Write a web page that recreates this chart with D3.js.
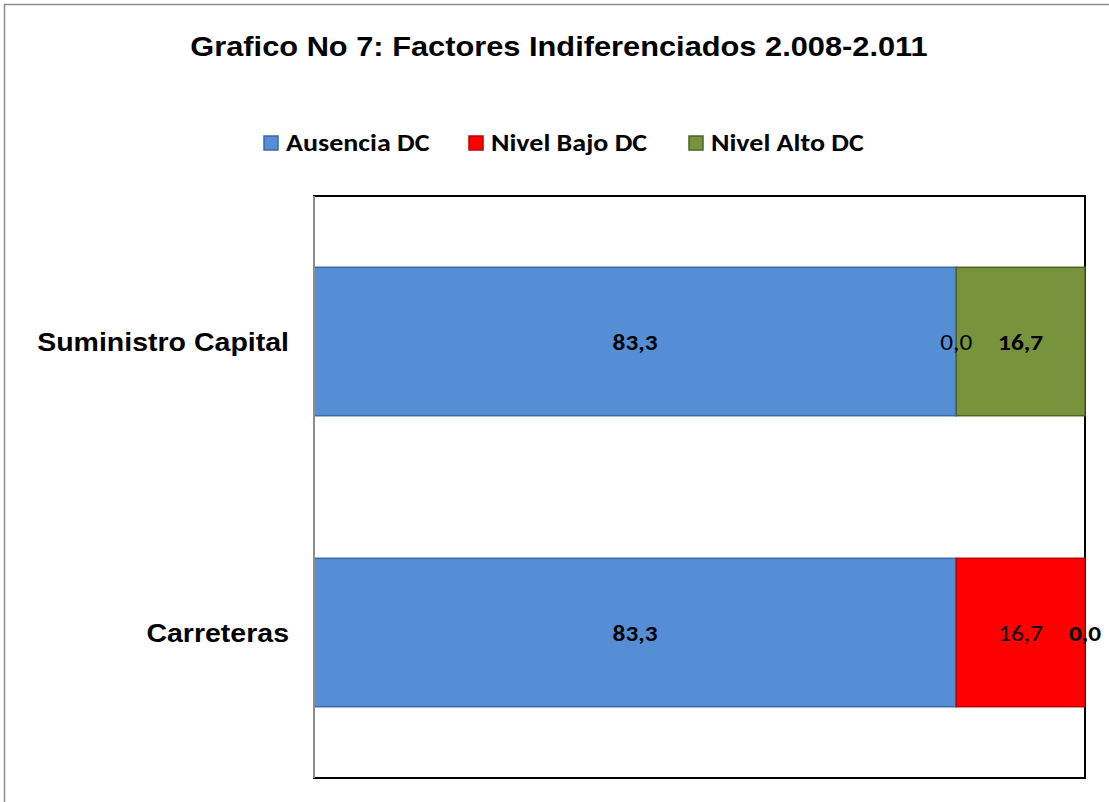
<!DOCTYPE html>
<html>
<head>
<meta charset="utf-8">
<script src="https://cdn.jsdelivr.net/npm/d3@7"></script>
<style>
  body { margin: 0; background: #fff; }
  svg text { font-family: Carlito, Lato, "Open Sans", sans-serif; }
</style>
</head>
<body>
<div id="chart"></div>
<script>
var categories = ["Suministro Capital", "Carreteras"];
var seriesNames = ["Ausencia DC", "Nivel Bajo DC", "Nivel Alto DC"];
var ausencia = [83.3, 83.3];
var bajo = [0.0, 16.7];
var alto = [16.7, 0.0];

var colors = ["#558ed5", "#ff0000", "#77933c"];
var borders = ["#3b6aa6", "#c00000", "#4f6228"];
var boldLabel = [true, false, true];

var width = 1109, height = 802;
var plot = { left: 314, top: 196, right: 1085, bottom: 778 };

var svg = d3.select("#chart").append("svg")
    .attr("width", width)
    .attr("height", height);

// the reference text looks a bit wider than the installed fonts
function stretch(sel, f) {
    sel.each(function () {
        var w = this.getComputedTextLength();
        d3.select(this).attr("textLength", w * f).attr("lengthAdjust", "spacingAndGlyphs");
    });
}

// outer frame
svg.append("rect")
    .attr("x", 4.5).attr("y", 4.5)
    .attr("width", width + 20).attr("height", height + 20)
    .attr("fill", "none").attr("stroke", "#8c8c8c").attr("stroke-width", 1.5);

var title = svg.append("text")
    .attr("x", 559).attr("y", 56)
    .attr("text-anchor", "middle")
    .style("font-family", "Arial, 'Liberation Sans', sans-serif")
    .style("font-weight", "bold")
    .style("font-size", "27px")
    .text("Grafico No 7: Factores Indiferenciados 2.008-2.011");
stretch(title, 1.14);

// legend
var legendX = [264, 469, 689];
var legend = svg.append("g");
seriesNames.forEach(function (s, i) {
    legend.append("rect")
        .attr("x", legendX[i]).attr("y", 136)
        .attr("width", 14).attr("height", 14)
        .attr("fill", colors[i]).attr("stroke", borders[i]).attr("stroke-width", 1.5);
    var t = legend.append("text")
        .attr("x", legendX[i] + 22).attr("y", 151)
        .style("font-weight", "bold").style("font-size", "25px")
        .text(s);
    stretch(t, 1.12);
});

var x = d3.scaleLinear().domain([0, 100]).range([plot.left, plot.right]);
var y = d3.scaleBand().domain(categories)
    .range([plot.top, plot.bottom]).paddingInner(0.49).paddingOuter(0.245);

var rows = categories.map(function (c, i) {
    return { cat: c, vals: [ausencia[i], bajo[i], alto[i]] };
});

// plot frame
svg.append("rect")
    .attr("x", plot.left).attr("y", plot.top)
    .attr("width", plot.right - plot.left).attr("height", plot.bottom - plot.top)
    .attr("fill", "none").attr("stroke", "#000").attr("stroke-width", 2);

var labels = [];
rows.forEach(function (r) {
    var acc = 0;
    r.vals.forEach(function (v, j) {
        var x0 = x(acc), x1 = x(acc + v);
        if (v > 0) {
            svg.append("rect")
                .attr("x", x0).attr("y", y(r.cat))
                .attr("width", x1 - x0).attr("height", y.bandwidth())
                .attr("fill", colors[j]).attr("stroke", borders[j]).attr("stroke-width", 1.5);
        }
        labels.push({ x: (x0 + x1) / 2, y: y(r.cat) + y.bandwidth() / 2, v: v, bold: boldLabel[j] });
        acc += v;
    });
});

var lab = svg.selectAll(".lab").data(labels).enter().append("text")
    .attr("class", "lab")
    .attr("x", function (d) { return d.x; })
    .attr("y", function (d) { return d.y + 8; })
    .attr("text-anchor", "middle")
    .style("font-size", "22px")
    .style("font-weight", function (d) { return d.bold ? "bold" : "normal"; })
    .text(function (d) { return d3.format(".1f")(d.v).replace(".", ","); });
stretch(lab, 1.15);

// y axis line
svg.append("line")
    .attr("x1", plot.left).attr("x2", plot.left)
    .attr("y1", plot.top).attr("y2", plot.bottom)
    .attr("stroke", "#8c8c8c").attr("stroke-width", 2);

var cats = svg.selectAll(".cat").data(categories).enter().append("text")
    .attr("class", "cat")
    .attr("x", 289)
    .attr("y", function (d) { return y(d) + y.bandwidth() / 2 + 9; })
    .attr("text-anchor", "end")
    .style("font-family", "Arial, 'Liberation Sans', sans-serif")
    .style("font-weight", "bold")
    .style("font-size", "25px")
    .text(function (d) { return d; });
stretch(cats, 1.14);
</script>
</body>
</html>
